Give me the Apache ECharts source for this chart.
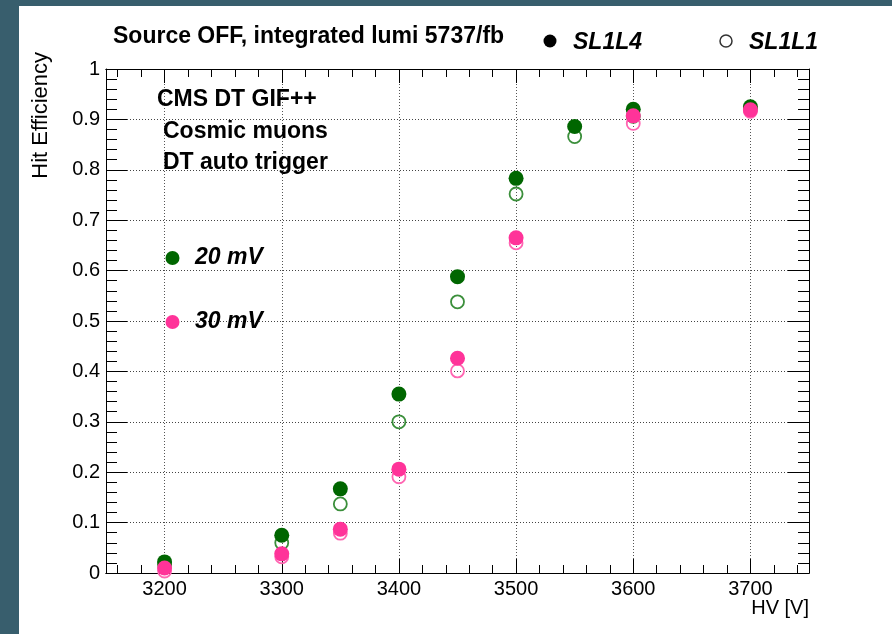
<!DOCTYPE html>
<html>
<head>
<meta charset="utf-8">
<script src="https://cdn.jsdelivr.net/npm/echarts@6/dist/echarts.min.js"></script>
<style>
  html, body { margin: 0; padding: 0; background: #ffffff; }
  #chart { width: 892px; height: 634px; }
</style>
</head>
<body>
<div id="chart"></div>
<script>
// High voltage scan points [V]
const hv = [3200, 3300, 3350, 3400, 3450, 3500, 3550, 3600, 3700];

// Hit efficiency, threshold 20 mV
const sl1l4_20mV = [0.022, 0.075, 0.167, 0.355, 0.588, 0.783, 0.886, 0.920, 0.925];
const sl1l1_20mV = [0.016, 0.060, 0.137, 0.300, 0.538, 0.752, 0.866, 0.906, 0.920];

// Hit efficiency, threshold 30 mV (no point at 3550 V)
const sl1l4_30mV = [0.010, 0.038, 0.087, 0.206, 0.426, 0.665, null, 0.907, 0.919];
const sl1l1_30mV = [0.004, 0.032, 0.079, 0.191, 0.401, 0.655, null, 0.892, 0.916];

// Axis ticks
const xMajorTicks = [3200, 3300, 3400, 3500, 3600, 3700];
const xRange = [3150, 3750];
const yRange = [0, 1];

const xMinorTicks = [];
for (let v = 3160; v < 3750; v += 20) {
  if (v % 100 !== 0) xMinorTicks.push(v);
}

const FONT = 'Liberation Sans, Arial, Helvetica, sans-serif';
const GREEN = '#006600';
const GREEN_RING = '#3b8f3b';
const PINK = '#ff3399';
const PINK_RING = '#ff66b2';
const BORDER = '#385e6d';

function pairs(values) {
  const out = [];
  values.forEach((v, i) => { if (v !== null) out.push([hv[i], v]); });
  return out;
}

function xAxisDef(position, ticks, tickLen, withLabels, withGrid) {
  return {
    type: 'value',
    position: position,
    min: xRange[0],
    max: xRange[1],
    axisLine: { show: true, onZero: false, lineStyle: { color: '#000', width: 1 } },
    axisTick: { show: true, inside: true, length: tickLen, customValues: ticks,
                lineStyle: { color: '#000', width: 1 } },
    axisLabel: withLabels
      ? { show: true, customValues: ticks, color: '#000', fontSize: 20, fontFamily: FONT, margin: 6,
          formatter: v => String(v) }
      : { show: false },
    splitLine: withGrid
      ? { show: true, lineStyle: { color: '#555', width: 1, type: [1, 2] } }
      : { show: false },
    minorTick: { show: false },
    minorSplitLine: { show: false }
  };
}

function yAxisDef(position, withLabels, withGrid) {
  return {
    type: 'value',
    position: position,
    min: yRange[0],
    max: yRange[1],
    interval: 0.1,
    axisLine: { show: true, onZero: false, lineStyle: { color: '#000', width: 1 } },
    axisTick: { show: true, inside: true, length: 21, lineStyle: { color: '#000', width: 1 } },
    minorTick: { show: true, splitNumber: 5, length: 11, lineStyle: { color: '#000', width: 1 } },
    axisLabel: withLabels
      ? { show: true, color: '#000', fontSize: 20, fontFamily: FONT, margin: 6 }
      : { show: false },
    splitLine: withGrid
      ? { show: true, lineStyle: { color: '#444', width: 1, type: [1, 2] } }
      : { show: false }
  };
}

function filledSeries(name, values, color) {
  return {
    name: name, type: 'scatter', xAxisIndex: 0, yAxisIndex: 0,
    symbol: 'circle', symbolSize: 15,
    itemStyle: { color: color, opacity: 1 },
    emphasis: { disabled: true },
    data: pairs(values)
  };
}

function openSeries(name, values, color) {
  return {
    name: name, type: 'scatter', xAxisIndex: 0, yAxisIndex: 0,
    symbol: 'circle', symbolSize: 13,
    itemStyle: { color: 'rgba(0,0,0,0)', borderColor: color, borderWidth: 1.8, opacity: 1 },
    emphasis: { disabled: true },
    data: pairs(values)
  };
}

function label(text, x, y, font, align) {
  return {
    type: 'text', x: x, y: y, z: 100,
    style: { text: text, fill: '#000', font: font,
             align: align || 'left', textAlign: align || 'left',
             verticalAlign: 'middle', textVerticalAlign: 'middle' }
  };
}

const BOLD = 'bold 23px ' + FONT;
const BOLD_IT = 'italic bold 23px ' + FONT;

const chart = echarts.init(document.getElementById('chart'), null, { renderer: 'canvas' });
chart.setOption({
  animation: false,
  backgroundColor: '#ffffff',
  grid: { left: 106, top: 69, width: 703, height: 504, containLabel: false },
  xAxis: [
    xAxisDef('bottom', xMajorTicks, 14, true, true),
    xAxisDef('bottom', xMinorTicks, 8, false, false),
    xAxisDef('top', xMajorTicks, 14, false, false),
    xAxisDef('top', xMinorTicks, 8, false, false)
  ],
  yAxis: [
    yAxisDef('left', true, true),
    yAxisDef('right', false, false)
  ],
  series: [
    openSeries('SL1L1 20 mV', sl1l1_20mV, GREEN_RING),
    filledSeries('SL1L4 20 mV', sl1l4_20mV, GREEN),
    openSeries('SL1L1 30 mV', sl1l1_30mV, PINK_RING),
    filledSeries('SL1L4 30 mV', sl1l4_30mV, PINK)
  ],
  graphic: [
    { type: 'rect', shape: { x: 0, y: 0, width: 892, height: 6 }, style: { fill: BORDER }, z: 100 },
    { type: 'rect', shape: { x: 0, y: 0, width: 19, height: 634 }, style: { fill: BORDER }, z: 100 },

    label('Source OFF, integrated lumi 5737/fb', 113, 37, BOLD),

    { type: 'circle', shape: { cx: 550, cy: 41, r: 6.5 }, style: { fill: '#000' }, z: 100 },
    label('SL1L4', 573, 43, BOLD_IT),
    { type: 'circle', shape: { cx: 726, cy: 41, r: 6 }, style: { fill: 'none', stroke: '#333', lineWidth: 1.5 }, z: 100 },
    label('SL1L1', 749, 43, BOLD_IT),

    label('CMS DT GIF++', 157, 100, BOLD),
    label('Cosmic muons', 163, 132, BOLD),
    label('DT auto trigger', 163, 163, BOLD),

    { type: 'circle', shape: { cx: 172.5, cy: 258, r: 7 }, style: { fill: GREEN }, z: 100 },
    label('20 mV', 195, 258, BOLD_IT),
    { type: 'circle', shape: { cx: 172.5, cy: 322, r: 7 }, style: { fill: PINK }, z: 100 },
    label('30 mV', 195, 322, BOLD_IT),

    {
      type: 'text', x: 41, y: 52, rotation: Math.PI / 2, z: 100,
      style: { text: 'Hit Efficiency', fill: '#000', font: '22px ' + FONT,
               align: 'right', textAlign: 'right', verticalAlign: 'middle', textVerticalAlign: 'middle' }
    },
    label('HV [V]', 809, 608, '20px ' + FONT, 'right')
  ]
});
</script>
</body>
</html>
